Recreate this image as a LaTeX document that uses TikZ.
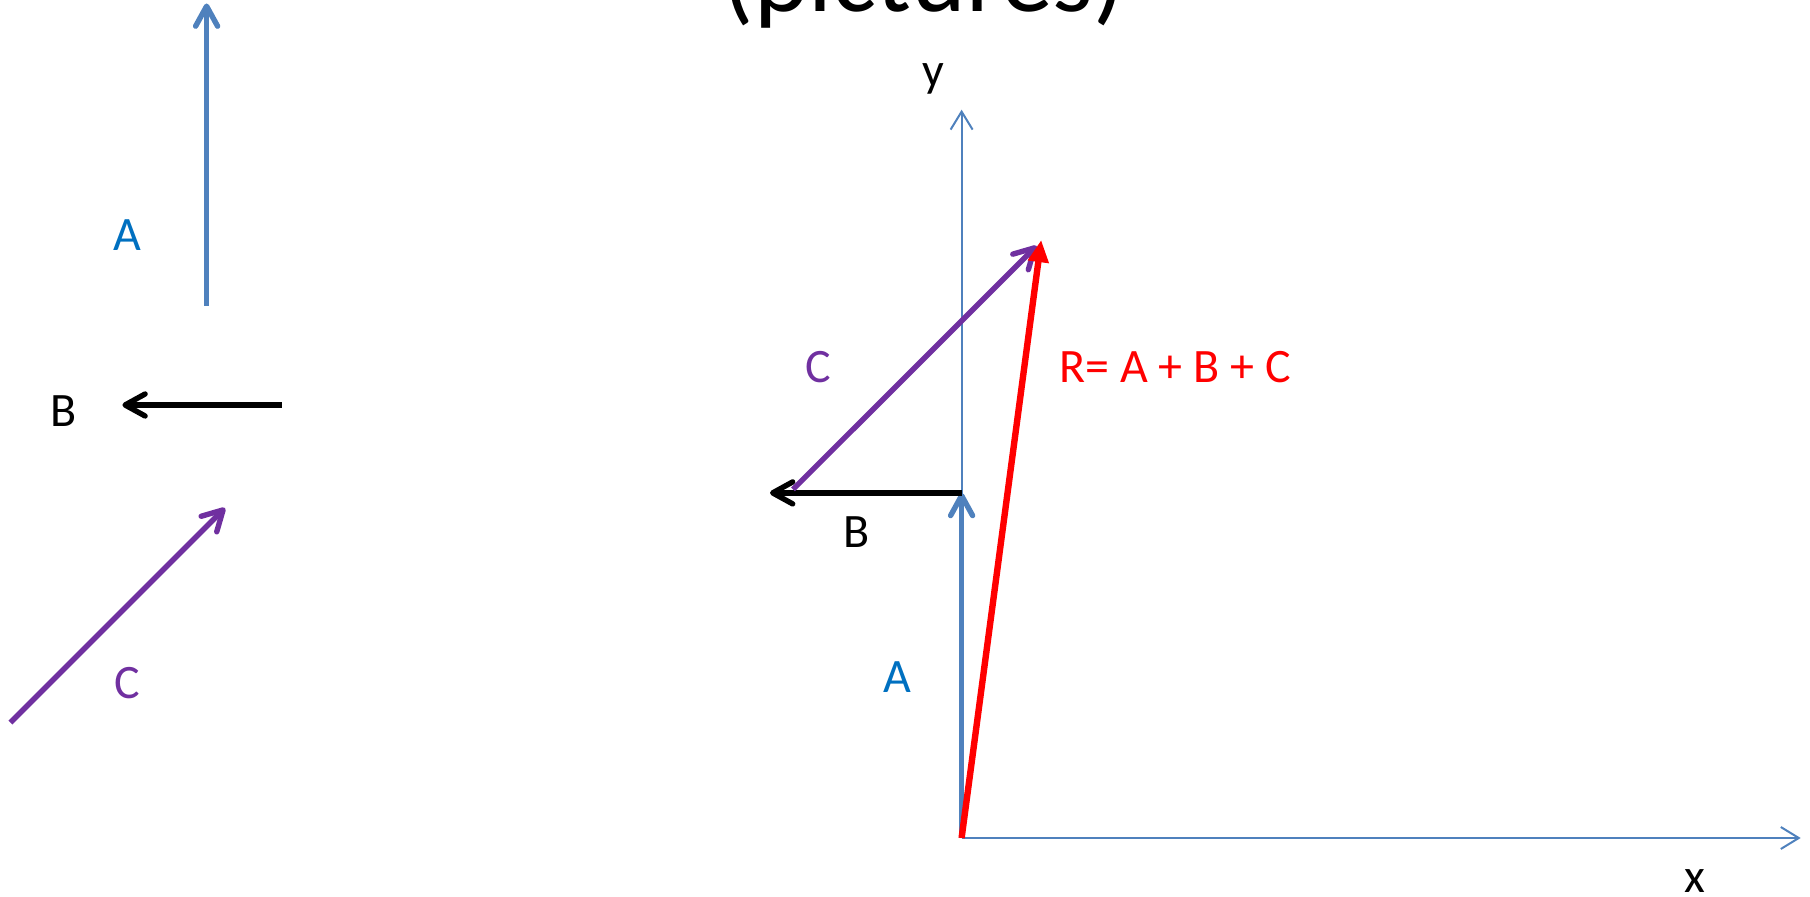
\documentclass[tikz,border=0pt]{standalone}
\usepackage{fontspec}
\setmainfont{Carlito}
\usepackage{xcolor}
\usetikzlibrary{arrows.meta}
\definecolor{vecblue}{HTML}{4F81BD}
\definecolor{lblblue}{HTML}{0070C0}
\definecolor{vecpurple}{HTML}{7030A0}
\tikzset{
    vec/.style={line width=2.7pt, -{Straight Barb[length=10pt, width=11pt, round]}},
    axis/.style={line width=1pt, draw=vecblue, -{Straight Barb[length=9pt, width=11pt]}},
    lbl/.style={font=\fontsize{24}{28}\selectfont, inner sep=0pt}
}

\begin{document}
\begin{tikzpicture}[
        x=0.5pt, y=-0.5pt,
        % Define styles
        resvec/.style={line width=3.2pt, draw=red, -{Triangle[length=11pt, width=10pt]}},
        title/.style={font=\fontsize{52}{62}\selectfont, anchor=base, inner sep=0pt}
    ]
        \useasboundingbox (0,0) rectangle (1810,897);
        \clip (0,0) rectangle (1810,897);

        % --- Title (cut off at the top) ---
        \node (title) [title] at (924,12) {(pictures)};

        % --- Single vectors ---
        \coordinate (a0) at (206.6,306);
        \coordinate (a1) at (206.6,3.5);
        \coordinate (b0) at (281.6,405);
        \coordinate (b1) at (122.4,405);
        \coordinate (c0) at (10.4,722.6);
        \coordinate (c1) at (225,508);

        \draw [vec, draw=vecblue] (a0) -- (a1);
        \draw [vec, draw=black] (b0) -- (b1);
        \draw [vec, draw=vecpurple] (c0) -- (c1);

        \node (lblA) [lbl, text=lblblue] at (127,235.5) {A};
        \node (lblB) [lbl] at (63.5,411) {B};
        \node (lblC) [lbl, text=vecpurple] at (127,683) {C};

        % --- Axes ---
        \coordinate (origin) at (961.6,838);
        \coordinate (ytip) at (961.6,109.7);
        \coordinate (xtip) at (1800.7,838);
        \draw [axis] (origin) -- (ytip);
        \draw [axis] (origin) -- (xtip);
        \node (ylbl) [lbl] at (933,78.5) {y};
        \node (xlbl) [lbl] at (1695,880.7) {x};

        % --- Sum of the vectors ---
        \coordinate (sumA) at (961.6,492.9);
        \coordinate (sumB) at (770,492.9);
        \coordinate (sumC0) at (793,489.4);
        \coordinate (sumC) at (1036.6,245.9);
        \coordinate (sumR) at (1041.2,240.1);

        \draw [vec, draw=vecblue] (origin) -- (sumA);
        \draw [vec, draw=black] (sumA) -- (sumB);
        \draw [vec, draw=vecpurple] (sumC0) -- (sumC);
        \draw [resvec] (origin) -- (sumR);

        \node (sumlblA) [lbl, text=lblblue] at (897,677.6) {A};
        \node (sumlblB) [lbl] at (856.5,532) {B};
        \node (sumlblC) [lbl, text=vecpurple] at (818.4,367) {C};
        \node (sumlblR) [lbl, text=red] at (1175,367) {R= A + B + C};

    \end{tikzpicture}
\end{document}
